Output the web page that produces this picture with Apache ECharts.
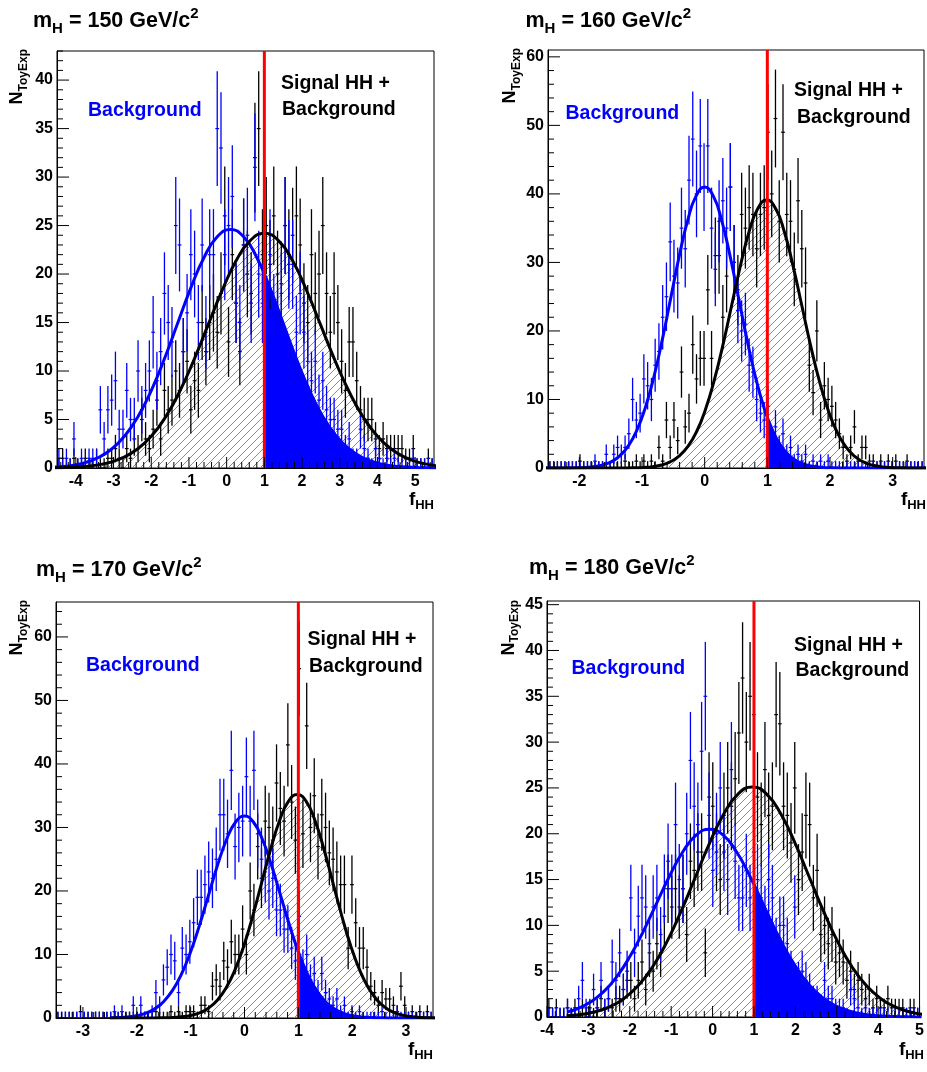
<!DOCTYPE html>
<html><head><meta charset="utf-8">
<script src="https://cdn.jsdelivr.net/npm/echarts@6/dist/echarts.min.js"></script>
<style>html,body{margin:0;padding:0;background:#fff}#c{width:927px;height:1072px}</style>
</head><body><div id="c"></div>
<script>
// ===================== DATA =====================
// Histogram counts (100 bins per panel)
const xRange150 = [-4.5, 5.5];
const bkg150 = [
 1,0,1,0,3,0,1,0,1,1,
 1,6,3,6,7,9,4,4,8,5,
 5,10,6,8,10,14,9,12,18,15,
 13,25,23,12,16,22,20,15,23,14,
 22,22,35,33,22,25,28,17,15,23,
 24,17,31,20,17,14,22,16,15,18,
 25,21,21,14,18,14,11,9,11,7,
 9,6,5,5,4,4,2,3,1,1,
 4,2,1,0,2,1,0,1,0,1,
 0,0,0,0,1,0,0,0,0,0];
const sig150 = [
 0,1,0,0,1,0,0,1,0,0,
 1,0,0,1,1,2,1,0,2,1,
 3,2,5,3,2,4,7,3,8,6,
 7,10,8,12,11,6,9,8,15,12,
 15,16,14,18,26,13,22,17,12,23,
 20,18,32,35,22,25,21,26,20,19,
 25,22,24,26,23,17,15,22,18,20,
 25,18,14,18,15,11,8,13,13,9,
 6,5,5,5,3,2,3,2,2,2,
 2,2,1,1,2,0,0,0,1,0];

const xRange160 = [-2.5, 3.5];
const bkg160 = [
 0,0,0,0,0,0,0,0,0,0,0,0,1,0,0,2,0,2,3,2,
 3,5,10,7,8,13,12,10,15,17,22,25,33,28,27,35,32,42,48,40,
 47,41,47,35,29,36,39,35,41,30,23,20,21,15,14,10,8,7,9,3,
 6,3,5,2,3,1,2,1,2,0,1,0,1,0,1,0,0,0,0,0,
 0,0,0,0,0,0,0,0,0,0,0,0,0,0,0,0,0,0,0,0];
const sig160 = [
 0,0,0,0,0,0,0,0,1,0,0,0,0,0,0,0,0,0,0,0,
 1,0,0,1,0,1,0,1,0,3,1,7,3,7,4,14,6,8,18,13,
 16,16,26,16,31,31,22,28,41,30,26,37,35,38,37,32,37,38,49,40,
 51,36,49,37,36,29,39,32,27,15,11,20,7,12,10,9,7,5,3,1,
 3,6,1,3,3,1,1,0,1,0,1,0,1,0,0,1,0,0,0,0];

const xRange170 = [-3.5, 3.5];
const bkg170 = [
 0,0,0,0,0,0,0,0,0,0,0,0,0,0,0,1,0,1,0,0,
 2,0,2,0,0,1,4,2,6,8,10,9,4,11,10,12,15,19,19,21,
 23,22,25,32,32,29,39,27,30,31,38,31,39,29,25,23,20,22,17,17,
 14,14,11,9,16,8,10,6,7,4,7,4,3,2,3,1,2,0,1,0,
 1,0,0,0,0,0,1,0,0,0,1,0,0,0,0,0,0,0,0,0];
const sig170 = [
 0,0,0,0,0,0,1,0,0,0,0,0,0,0,0,0,0,0,0,0,
 0,0,0,0,0,0,1,0,0,0,1,0,1,0,1,1,1,0,2,2,
 1,5,6,5,9,8,12,10,10,14,10,20,17,27,22,31,30,28,37,33,
 31,43,34,28,55,29,46,30,35,27,32,30,26,25,23,21,21,11,21,15,
 11,11,8,5,4,2,4,3,3,2,1,5,2,0,1,0,1,0,1,0];

const xRange180 = [-4, 5];
const bkg180 = [
 0,0,0,0,0,1,0,0,2,4,1,0,3,1,4,1,2,6,4,7,
 3,5,13,7,11,13,12,8,12,13,9,14,17,14,21,15,14,20,28,23,
 21,29,35,22,16,20,25,18,15,27,17,13,13,16,13,18,15,13,11,15,
 13,8,10,10,8,5,12,4,5,4,3,2,2,1,4,2,2,1,1,1,
 0,3,2,1,0,1,0,0,0,0,0,0,0,0,0,0,0,0,0,0];
const sig180 = [
 1,0,1,0,0,1,0,1,0,1,0,1,0,1,2,1,2,1,2,2,
 3,4,4,2,4,6,3,7,5,8,7,11,14,12,14,12,14,9,17,16,
 18,18,7,24,23,18,15,22,25,23,26,31,37,30,35,33,24,21,27,22,
 23,33,32,23,22,19,25,15,18,22,21,13,16,9,10,8,9,6,7,6,
 4,5,3,4,3,2,3,1,2,1,1,2,1,1,1,1,0,1,1,0];

// Fitted Gaussian curves: [x, N]
const bkgFit150 = [[-4.8,0.054],[-4.45,0.125],[-4.1,0.27],[-3.75,0.56],[-3.4,1.08],[-3.05,1.96],[-2.7,3.33],[-2.35,5.32],[-2.0,7.99],[-1.65,11.26],[-1.3,14.92],[-0.95,18.57],[-0.6,21.71],[-0.25,23.84],[0.1,24.6],[0.45,23.84],[0.8,21.71],[1.15,18.57],[1.5,14.92],[1.85,11.26],[2.2,7.99],[2.55,5.32],[2.9,3.33],[3.25,1.96],[3.6,1.08],[3.95,0.56],[4.3,0.27],[4.65,0.125],[5.0,0.054],[5.35,0.022],[5.7,0.0074]];
const sigFit150 = [[-5.0,0.0073],[-4.625,0.022],[-4.25,0.053],[-3.875,0.12],[-3.5,0.27],[-3.125,0.55],[-2.75,1.06],[-2.375,1.93],[-2.0,3.27],[-1.625,5.23],[-1.25,7.86],[-0.875,11.08],[-0.5,14.68],[-0.125,18.27],[0.25,21.36],[0.625,23.45],[1.0,24.2],[1.375,23.45],[1.75,21.36],[2.125,18.27],[2.5,14.68],[2.875,11.08],[3.25,7.86],[3.625,5.23],[4.0,3.27],[4.375,1.93],[4.75,1.06],[5.125,0.55],[5.5,0.27],[5.875,0.12]];
const tail150 = [[1,20.0],[1.15,18.57],[1.5,14.92],[1.85,11.26],[2.2,7.99],[2.55,5.32],[2.9,3.33],[3.25,1.96],[3.6,1.08],[3.95,0.56],[4.3,0.27],[4.65,0.125],[5.0,0.054],[5.35,0.022],[5.7,0.0074]];

const bkgFit160 = [[-2.6,0],[-2.16,0.012],[-2.025,0.037],[-1.89,0.09],[-1.755,0.21],[-1.62,0.46],[-1.485,0.93],[-1.35,1.80],[-1.215,3.26],[-1.08,5.55],[-0.945,8.87],[-0.81,13.31],[-0.675,18.77],[-0.54,24.87],[-0.405,30.95],[-0.27,36.18],[-0.135,39.74],[0,41.0],[0.135,39.74],[0.27,36.18],[0.405,30.95],[0.54,24.87],[0.675,18.77],[0.81,13.31],[0.945,8.87],[1.08,5.55],[1.215,3.26],[1.35,1.80],[1.485,0.93],[1.62,0.46],[1.755,0.21],[1.89,0.09],[2.025,0.037],[2.16,0.012],[2.5,0],[3.6,0]];
const sigFit160 = [[-2.6,0],[-1.25,0.012],[-1.11,0.035],[-0.97,0.086],[-0.83,0.2],[-0.69,0.43],[-0.55,0.89],[-0.41,1.72],[-0.27,3.11],[-0.13,5.29],[0.01,8.46],[0.15,12.7],[0.29,17.9],[0.43,23.71],[0.57,29.51],[0.71,34.51],[0.85,37.9],[0.99,39.1],[1.13,37.9],[1.27,34.51],[1.41,29.51],[1.55,23.71],[1.69,17.9],[1.83,12.7],[1.97,8.46],[2.11,5.29],[2.25,3.11],[2.39,1.72],[2.53,0.89],[2.67,0.43],[2.81,0.2],[2.95,0.086],[3.09,0.035],[3.23,0.012],[3.6,0]];
const tail160 = [[1,7.38],[1.08,5.55],[1.215,3.26],[1.35,1.80],[1.485,0.93],[1.62,0.46],[1.755,0.21],[1.89,0.09],[2.025,0.037],[2.16,0.012],[2.5,0],[3.6,0]];

const bkgFit170 = [[-2.5,0.031],[-2.345,0.07],[-2.1775,0.16],[-2.01,0.35],[-1.8425,0.73],[-1.675,1.4],[-1.5075,2.53],[-1.34,4.3],[-1.1725,6.88],[-1.005,10.33],[-0.8375,14.56],[-0.67,19.29],[-0.5025,24.0],[-0.335,28.06],[-0.1675,30.82],[0,31.8],[0.1675,30.82],[0.335,28.06],[0.5025,24.0],[0.67,19.29],[0.8375,14.56],[1.005,10.33],[1.1725,6.88],[1.34,4.3],[1.5075,2.53],[1.675,1.4],[1.8425,0.73],[2.01,0.35],[2.1775,0.16],[2.345,0.07],[2.5125,0.029],[2.68,0.01],[3.6,0]];
const sigFit170 = [[-2.5,0],[-1.66,0.011],[-1.495,0.032],[-1.33,0.077],[-1.165,0.18],[-1.0,0.39],[-0.835,0.8],[-0.67,1.55],[-0.505,2.8],[-0.34,4.76],[-0.175,7.61],[-0.01,11.43],[0.155,16.11],[0.32,21.35],[0.485,26.57],[0.65,31.06],[0.815,34.12],[0.98,35.2],[1.145,34.12],[1.31,31.06],[1.475,26.57],[1.64,21.35],[1.805,16.11],[1.97,11.43],[2.135,7.61],[2.3,4.76],[2.465,2.8],[2.63,1.55],[2.795,0.8],[2.96,0.39],[3.125,0.18],[3.29,0.077],[3.455,0.032],[3.62,0.011]];
const tail170 = [[1,10.5],[1.1725,6.88],[1.34,4.3],[1.5075,2.53],[1.675,1.4],[1.8425,0.73],[2.01,0.35],[2.1775,0.16],[2.345,0.07],[2.5125,0.029],[2.68,0.01],[3.6,0]];

const bkgFit180 = [[-3.5,0.57],[-3.27,0.9],[-2.95,1.63],[-2.63,2.77],[-2.31,4.43],[-1.99,6.66],[-1.67,9.38],[-1.35,12.43],[-1.03,15.47],[-0.71,18.09],[-0.39,19.87],[-0.07,20.5],[0.25,19.87],[0.57,18.09],[0.89,15.47],[1.21,12.43],[1.53,9.38],[1.85,6.66],[2.17,4.43],[2.49,2.77],[2.81,1.63],[3.13,0.9],[3.45,0.47],[3.77,0.23],[4.09,0.1],[4.41,0.045],[4.73,0.018],[5.05,0.006]];
const sigFit180 = [[-3.525,0.13],[-3.18,0.28],[-2.835,0.57],[-2.49,1.1],[-2.145,2.0],[-1.8,3.4],[-1.455,5.43],[-1.11,8.15],[-0.765,11.49],[-0.42,15.22],[-0.075,18.95],[0.27,22.15],[0.615,24.33],[0.96,25.1],[1.305,24.33],[1.65,22.15],[1.995,18.95],[2.34,15.22],[2.685,11.49],[3.03,8.15],[3.375,5.43],[3.72,3.4],[4.065,2.0],[4.41,1.1],[4.755,0.57],[5.1,0.28]];
const tail180 = [[1,14.46],[1.21,12.43],[1.53,9.38],[1.85,6.66],[2.17,4.43],[2.49,2.77],[2.81,1.63],[3.13,0.9],[3.45,0.47],[3.77,0.23],[4.09,0.1],[4.41,0.045],[4.73,0.018],[5.05,0.006]];

// Axis extents and tick labels
const yMax150 = 43, yMax160 = 61, yMax170 = 65.5, yMax180 = 45.4;
const xTicks150 = [-4,-3,-2,-1,0,1,2,3,4,5];
const xTicks160 = [-2,-1,0,1,2,3];
const xTicks170 = [-3,-2,-1,0,1,2,3];
const xTicks180 = [-4,-3,-2,-1,0,1,2,3,4,5];
const yTicks150 = [0,5,10,15,20,25,30,35,40];
const yTicks160 = [0,10,20,30,40,50,60];
const yTicks170 = [0,10,20,30,40,50,60];
const yTicks180 = [0,5,10,15,20,25,30,35,40,45];
const fHHHypothesis = 1; // red line position
const masses = ['150','160','170','180'];

// ===================== LAYOUT / STYLE =====================
const F = '"Liberation Sans", Arial, Helvetica, sans-serif';
const panels = [
 {bkg:bkg150, sig:sig150, bkgFit:bkgFit150, sigFit:sigFit150, tail:tail150, xr:xRange150, ymax:yMax150, xt:xTicks150, yt:yTicks150, yMajor:5, yMinor:1,
  grid:{left:57, top:51, width:377, height:417}, title:[33,6], ytitle:[17.5,49], xtitle:[434,500],
  leg:{b:[88,111], s:[281,84], g:[282,110]}},
 {bkg:bkg160, sig:sig160, bkgFit:bkgFit160, sigFit:sigFit160, tail:tail160, xr:xRange160, ymax:yMax160, xt:xTicks160, yt:yTicks160, yMajor:10, yMinor:2,
  grid:{left:548, top:50, width:378, height:418}, title:[525.5,6], ytitle:[510.5,48], xtitle:[926,500],
  leg:{b:[565.5,113.5], s:[794,91], g:[797,117.5]}},
 {bkg:bkg170, sig:sig170, bkgFit:bkgFit170, sigFit:sigFit170, tail:tail170, xr:xRange170, ymax:yMax170, xt:xTicks170, yt:yTicks170, yMajor:10, yMinor:2,
  grid:{left:56, top:602, width:377, height:416}, title:[36,555], ytitle:[17.5,600], xtitle:[433,1050],
  leg:{b:[86,666], s:[307.5,639.5], g:[309,667]}},
 {bkg:bkg180, sig:sig180, bkgFit:bkgFit180, sigFit:sigFit180, tail:tail180, xr:xRange180, ymax:yMax180, xt:xTicks180, yt:yTicks180, yMajor:5, yMinor:1,
  grid:{left:547, top:601, width:377, height:416}, title:[529,553], ytitle:[509,600], xtitle:[924,1050],
  leg:{b:[571.5,669], s:[794,646], g:[795.5,671]}}
];

// hatch pattern (ROOT style 3004-like)
const hc = document.createElement('canvas'); hc.width = 8; hc.height = 8;
(function(){ const g = hc.getContext('2d'); g.strokeStyle = '#8c8c8c'; g.lineWidth = 1;
  g.beginPath(); g.moveTo(0,8); g.lineTo(8,0); g.moveTo(-1,1); g.lineTo(1,-1); g.moveTo(7,9); g.lineTo(9,7); g.stroke(); })();

function errSeries(k, counts, xr, color) {
  const w = (xr[1]-xr[0]) / counts.length;
  const data = counts.map((c,i) => [xr[0] + (i+0.5)*w, c]);
  return {type:'custom', xAxisIndex:k, yAxisIndex:k, data, z:3, clip:true, silent:true,
    renderItem(params, api){
      const x = api.value(0), v = api.value(1);
      const e = v > 0 ? Math.sqrt(v) : 1;
      const lo = Math.max(0, v - e), hi = v + e;
      const a = api.coord([x, hi]), b = api.coord([x, lo]);
      const l = api.coord([x - w/2, v]), r = api.coord([x + w/2, v]);
      return {type:'group', children:[
        {type:'line', shape:{x1:a[0],y1:a[1],x2:b[0],y2:b[1]}, style:{stroke:color,lineWidth:1.3}},
        {type:'line', shape:{x1:l[0],y1:l[1],x2:r[0],y2:r[1]}, style:{stroke:color,lineWidth:1.2}}
      ]};
    }};
}
function tickSeries(k, P) {
  const data = [];
  const isMaj = (arr, v) => arr.some(t => Math.abs(t - v) < 1e-6);
  for (let n = Math.ceil(P.xr[0]*5 - 1e-9); n <= Math.floor(P.xr[1]*5 + 1e-9); n++) {
    const v = n/5; data.push([v, 0, 0, isMaj(P.xt, v) ? 11 : 6]);
  }
  for (let n = 0; n*P.yMinor <= P.ymax + 1e-9; n++) {
    const v = n*P.yMinor; data.push([P.xr[0], v, 1, isMaj(P.yt, v) ? 12 : 6]);
  }
  return {type:'custom', xAxisIndex:k, yAxisIndex:k, data, z:8, clip:false, silent:true,
    renderItem(params, api){
      const p = api.coord([api.value(0), api.value(1)]);
      const t = api.value(2), L = api.value(3);
      const q = t === 0 ? [p[0], p[1]-L] : [p[0]+L, p[1]];
      return {type:'line', shape:{x1:p[0],y1:p[1],x2:q[0],y2:q[1]}, style:{stroke:'#000', lineWidth:1}};
    }};
}

const grids = [], xAxes = [], yAxes = [], series = [], graphics = [];
const lab = {fontSize:16, fontWeight:'bold', fontFamily:F, color:'#000'};
panels.forEach((P, k) => {
  grids.push(Object.assign({show:true, borderColor:'#000', borderWidth:1, backgroundColor:'rgba(0,0,0,0)'}, P.grid));
  xAxes.push({gridIndex:k, type:'value', min:P.xr[0], max:P.xr[1], interval:0.5,
    axisLine:{show:true, onZero:false, lineStyle:{color:'#000', width:1}}, axisTick:{show:false}, splitLine:{show:false},
    axisLabel:Object.assign({margin:6, formatter: v => P.xt.some(t => Math.abs(t-v) < 1e-6) ? String(Math.round(v)) : ''}, lab)});
  yAxes.push({gridIndex:k, type:'value', min:0, max:P.ymax, interval:P.yMajor,
    axisLine:{show:true, onZero:false, lineStyle:{color:'#000', width:1}}, axisTick:{show:false}, splitLine:{show:false},
    axisLabel:Object.assign({margin:4, formatter: v => P.yt.some(t => Math.abs(t-v) < 1e-6) ? String(Math.round(v)) : ''}, lab)});
  const ax = {xAxisIndex:k, yAxisIndex:k};
  series.push(Object.assign({type:'line', data:P.sigFit, smooth:true, symbol:'none', silent:true, lineStyle:{width:0, opacity:0},
    areaStyle:{color:{image:hc, repeat:'repeat'}, opacity:1}, z:1}, ax));
  series.push(Object.assign({type:'line', data:P.tail, smooth:true, symbol:'none', silent:true, lineStyle:{width:0, opacity:0},
    areaStyle:{color:'#0000ff', opacity:1}, z:2}, ax));
  series.push(errSeries(k, P.sig, P.xr, '#000000'));
  series.push(errSeries(k, P.bkg, P.xr, '#0000ff'));
  series.push(Object.assign({type:'line', data:P.bkgFit, smooth:true, symbol:'none', silent:true, lineStyle:{color:'#0000ff', width:3}, z:5}, ax));
  series.push(Object.assign({type:'line', data:P.sigFit, smooth:true, symbol:'none', silent:true, lineStyle:{color:'#000000', width:3}, z:5}, ax));
  series.push(Object.assign({type:'line', data:[[fHHHypothesis,0],[fHHHypothesis,P.ymax]], symbol:'none', silent:true, lineStyle:{color:'#ff0000', width:3}, z:6}, ax));
  series.push(tickSeries(k, P));

  // texts
  graphics.push({type:'text', x:P.title[0], y:P.title[1], style:{
    text:'{a|m}{b|H}{a| = ' + masses[k] + ' GeV/c}{c|2}', align:'left', verticalAlign:'top', textAlign:'left', textVerticalAlign:'top',
    rich:{a:{fontSize:21.5, fontWeight:'bold', fontFamily:F, fill:'#000', lineHeight:30},
          b:{fontSize:15, fontWeight:'bold', fontFamily:F, fill:'#000', lineHeight:15, verticalAlign:'bottom'},
          c:{fontSize:15, fontWeight:'bold', fontFamily:F, fill:'#000', lineHeight:15, verticalAlign:'top'}}}});
  graphics.push({type:'text', x:P.ytitle[0], y:P.ytitle[1], rotation:Math.PI/2, style:{
    text:'{n|N}{s|ToyExp}', align:'right', verticalAlign:'middle', textAlign:'right', textVerticalAlign:'middle',
    rich:{n:{fontSize:18, fontWeight:'bold', fontFamily:F, fill:'#000', lineHeight:24},
          s:{fontSize:12, fontWeight:'bold', fontFamily:F, fill:'#000', lineHeight:12, verticalAlign:'bottom'}}}});
  graphics.push({type:'text', x:P.xtitle[0], y:P.xtitle[1], style:{
    text:'{f|f}{s|HH}', align:'right', verticalAlign:'middle', textAlign:'right', textVerticalAlign:'middle',
    rich:{f:{fontSize:19, fontWeight:'bold', fontFamily:F, fill:'#000', lineHeight:24},
          s:{fontSize:13, fontWeight:'bold', fontFamily:F, fill:'#000', lineHeight:13, verticalAlign:'bottom'}}}});
  const lt = (pos, text, color) => ({type:'text', x:pos[0], y:pos[1], style:{text, fill:color,
    font:'bold 19.5px ' + F, align:'left', verticalAlign:'middle', textAlign:'left', textVerticalAlign:'middle'}});
  graphics.push(lt(P.leg.b, 'Background', '#0000ff'));
  graphics.push(lt(P.leg.s, 'Signal HH +', '#000000'));
  graphics.push(lt(P.leg.g, 'Background', '#000000'));
});

const chart = echarts.init(document.getElementById('c'), null, {renderer:'canvas'});
chart.setOption({animation:false, backgroundColor:'#fff', grid:grids, xAxis:xAxes, yAxis:yAxes, series, graphic:{elements:graphics}});
</script></body></html>
